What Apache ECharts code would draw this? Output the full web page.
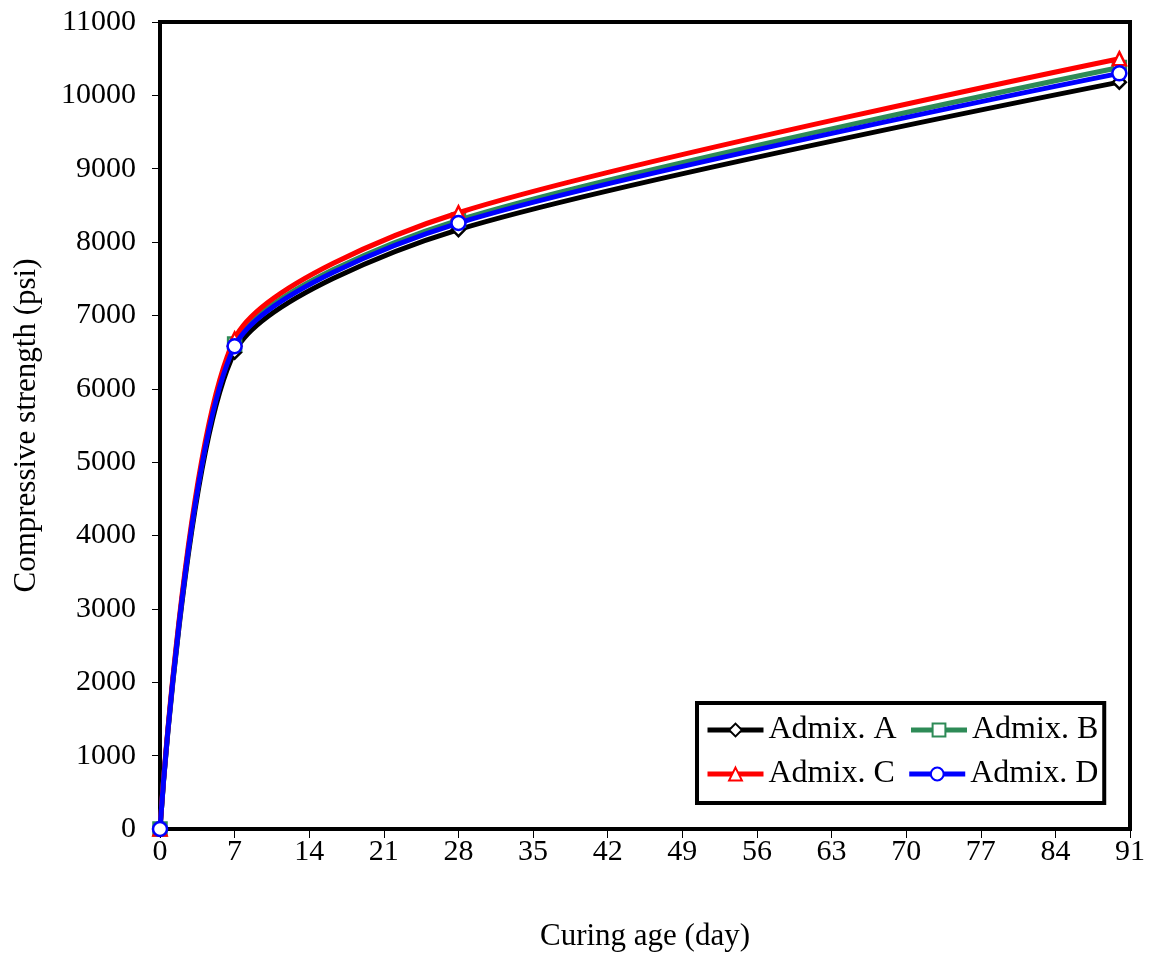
<!DOCTYPE html>
<html>
<head>
<meta charset="utf-8">
<script src="https://cdn.jsdelivr.net/npm/echarts@6/dist/echarts.min.js"></script>
<style>
  html, body { margin: 0; padding: 0; background: #fff; }
  #chart { width: 1153px; height: 958px; }
</style>
</head>
<body>
<div id="chart"></div>
<script>
// Curing ages (days) and compressive strength (psi) per admixture
const curingAge = [0, 7, 28, 90];
const admixA = [0, 6500, 8170, 10180];
const admixB = [0, 6610, 8300, 10380];
const admixC = [0, 6680, 8400, 10500];
const admixD = [0, 6580, 8260, 10300];
const seriesNames = ['Admix. A', 'Admix. B', 'Admix. C', 'Admix. D'];
const seriesColors = ['#000000', '#2e8b57', '#ff0000', '#0000ff'];
const seriesSymbols = ['diamond', 'rect', 'triangle', 'circle'];

const font = '"Liberation Serif", "Times New Roman", serif';
const chart = echarts.init(document.getElementById('chart'));

const dataSets = [admixA, admixB, admixC, admixD];
const series = dataSets.map((vals, i) => ({
  name: seriesNames[i],
  type: 'line',
  smooth: 0.25,
  data: curingAge.map((x, j) => [x, vals[j]]),
  symbol: seriesSymbols[i],
  symbolSize: i === 3 ? 14 : 13,
  showAllSymbol: true,
  lineStyle: { color: seriesColors[i], width: 5 },
  itemStyle: { color: '#ffffff', borderColor: seriesColors[i], borderWidth: 2.5 },
  emphasis: { disabled: true },
  z: 2 + i
}));

chart.setOption({
  animation: false,
  backgroundColor: '#ffffff',
  grid: {
    left: 160, right: 23, top: 22, bottom: 129,
    outerBoundsMode: 'none', containLabel: false,
    show: true, borderColor: '#000', borderWidth: 4, backgroundColor: 'transparent'
  },
  legend: {
    left: 697, top: 703, width: 420,
    itemWidth: 56, itemHeight: 16, itemGap: 12,
    padding: [11, 6, 13, 8],
    borderColor: '#000', borderWidth: 4,
    backgroundColor: '#fff',
    lineStyle: { width: 5 },
    textStyle: { fontFamily: font, fontSize: 32, color: '#000' },
    data: seriesNames
  },
  xAxis: {
    type: 'value', min: 0, max: 91, interval: 7,
    name: 'Curing age (day)', nameLocation: 'middle', nameGap: 92,
    nameTextStyle: { fontFamily: font, fontSize: 31, color: '#000' },
    axisLine: { show: true, lineStyle: { color: '#000', width: 4 } },
    axisTick: { show: true, inside: false, length: 9, lineStyle: { color: '#000', width: 1 } },
    axisLabel: { fontFamily: font, fontSize: 30, color: '#000', margin: 8, formatter: v => String(v) },
    splitLine: { show: false }
  },
  yAxis: {
    type: 'value', min: 0, max: 11000, interval: 1000,
    name: 'Compressive strength (psi)', nameLocation: 'middle', nameGap: 118,
    nameTextStyle: { fontFamily: font, fontSize: 31, color: '#000' },
    axisLine: { show: true, lineStyle: { color: '#000', width: 4 } },
    axisTick: { show: true, inside: false, length: 8, lineStyle: { color: '#000', width: 1 } },
    axisLabel: { fontFamily: font, fontSize: 30, color: '#000', margin: 24, formatter: v => String(v) },
    splitLine: { show: false }
  },
  series: series
});
</script>
</body>
</html>
